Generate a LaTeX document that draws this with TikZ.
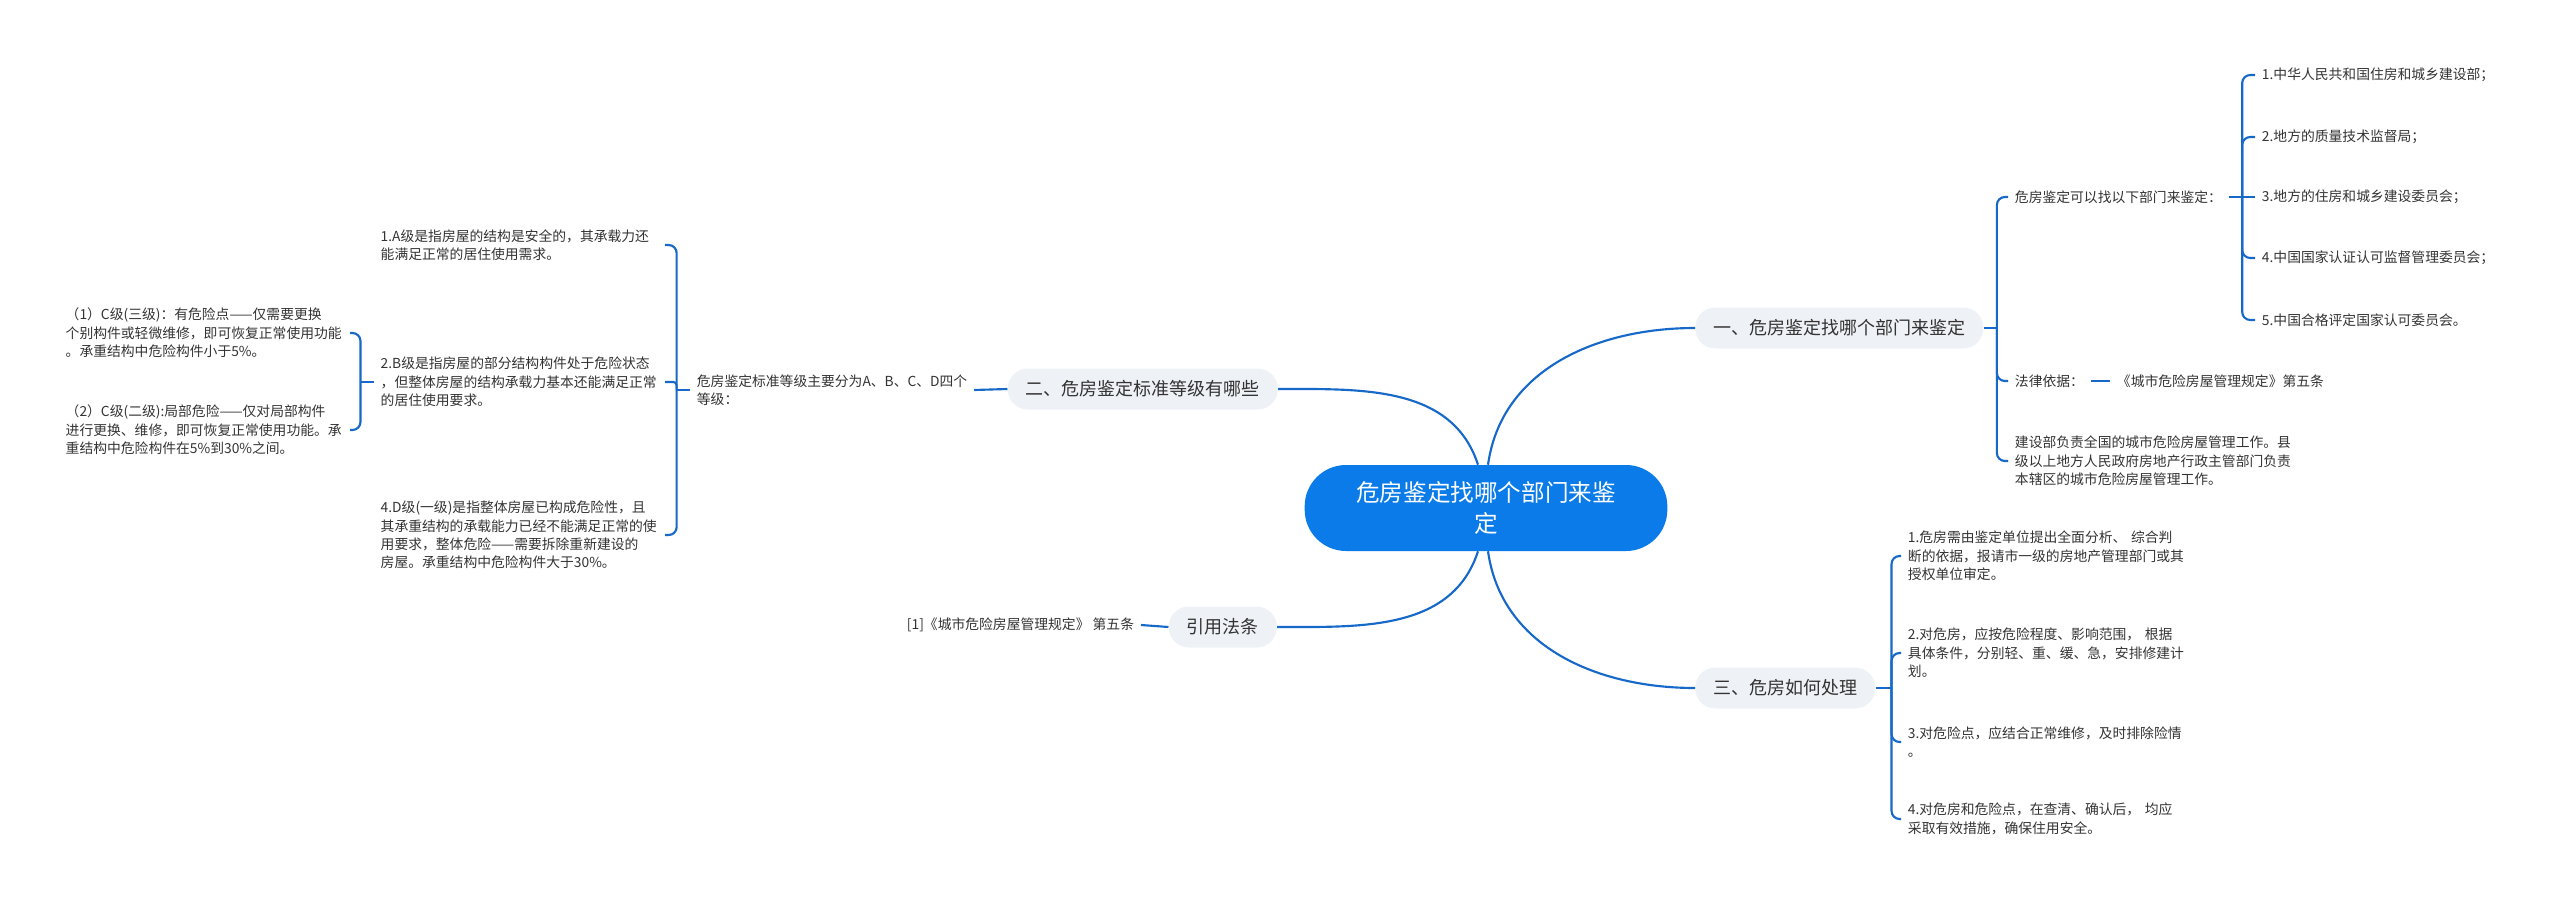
\documentclass[tikz,border=0pt]{standalone}
\usepackage{fontspec}
\setmainfont{Noto Sans CJK SC}
\usepackage{tikz}

\definecolor{rootblue}{RGB}{10,123,232}
\definecolor{linkblue}{RGB}{23,105,201}
\definecolor{topicgray}{RGB}{238,241,245}
\definecolor{inkgray}{RGB}{51,51,51}

\begin{document}
\begin{tikzpicture}[x=0.75pt,y=0.75pt,
    root/.style={fill=rootblue,text=white,rounded corners=31pt,minimum width=272pt,minimum height=64.5pt,
      inner sep=0pt,align=center,font=\fontsize{17.7pt}{23.5pt}\selectfont},
    topic/.style={fill=topicgray,text=inkgray,rounded corners=15pt,minimum height=30.75pt,
      inner xsep=13.5pt,inner ysep=0pt,font=\fontsize{13.5pt}{16pt}\selectfont},
    leaf/.style={text=inkgray,inner xsep=5pt,inner ysep=2pt,align=left,font=\fontsize{10.35pt}{13.75pt}\selectfont},
    note/.style={leaf,text width=208pt},
    link/.style={draw=linkblue,line width=1.6pt}]

\useasboundingbox (0,0) rectangle (2560,-903);

% centre and main topics
\node[root] (root) at (1486,-508) {危房鉴定找哪个部门来鉴\\定};

\node[topic,anchor=west] (one) at (1695,-328) {一、危房鉴定找哪个部门来鉴定};
\node[topic,anchor=east] (two) at (1278,-389) {二、危房鉴定标准等级有哪些};
\node[topic,anchor=west] (three) at (1695,-688) {三、危房如何处理};
\node[topic,anchor=east] (cite) at (1277,-627) {引用法条};

\draw[link] ([xshift=1.5pt]root.north) to[out=82,in=180] (one.west);
\draw[link] ([xshift=-6pt]root.north) to[out=108,in=0] (two.east);
\draw[link] ([xshift=1.5pt]root.south) to[out=-82,in=180] (three.west);
\draw[link] ([xshift=-6pt]root.south) to[out=-108,in=0] (cite.east);

% topic one
\node[leaf,anchor=west] (dept) at (2008,-197) {危房鉴定可以找以下部门来鉴定：};
\node[leaf,anchor=west] (dept1) at (2255,-75) {1.中华人民共和国住房和城乡建设部；};
\node[leaf,anchor=west] (dept2) at (2255,-137) {2.地方的质量技术监督局；};
\node[leaf,anchor=west] (dept3) at (2255,-197) {3.地方的住房和城乡建设委员会；};
\node[leaf,anchor=west] (dept4) at (2255,-258) {4.中国国家认证认可监督管理委员会；};
\node[leaf,anchor=west] (dept5) at (2255,-320) {5.中国合格评定国家认可委员会。};
\node[leaf,anchor=west] (basis) at (2008,-381) {法律依据：};
\node[leaf,anchor=west] (basislaw) at (2110,-381) {《城市危险房屋管理规定》第五条};
\node[note,anchor=west] (duty) at (2008,-461) {建设部负责全国的城市危险房屋管理工作。县\\级以上地方人民政府房地产行政主管部门负责\\本辖区的城市危险房屋管理工作。};

\draw[link] (one.east) -- ++(10pt,0) coordinate (j1);
\draw[link,rounded corners=6pt] (j1) |- (dept.west);
\draw[link,rounded corners=6pt] (j1) |- (basis.west);
\draw[link,rounded corners=6pt] (j1) |- (duty.west);

\draw[link] (dept.east) -- ++(10pt,0) coordinate (j1a);
\draw[link,rounded corners=6pt] (j1a) |- (dept1.west);
\draw[link,rounded corners=6pt] (j1a) |- (dept2.west);
\draw[link] (j1a) -- (dept3.west);
\draw[link,rounded corners=6pt] (j1a) |- (dept4.west);
\draw[link,rounded corners=6pt] (j1a) |- (dept5.west);

\draw[link] (basis.east) -- (basislaw.west);

% topic three
\node[note,anchor=west] (deal1) at (1901,-556) {1.危房需由鉴定单位提出全面分析、 综合判\\断的依据，报请市一级的房地产管理部门或其\\授权单位审定。};
\node[note,anchor=west] (deal2) at (1901,-653) {2.对危房，应按危险程度、影响范围， 根据\\具体条件，分别轻、重、缓、急，安排修建计\\划。};
\node[note,anchor=west] (deal3) at (1901,-742) {3.对危险点，应结合正常维修，及时排除险情\\。};
\node[note,anchor=west] (deal4) at (1901,-819) {4.对危房和危险点，在查清、确认后， 均应\\采取有效措施，确保住用安全。};

\draw[link] (three.east) -- ++(12pt,0) coordinate (j3);
\draw[link,rounded corners=6pt] (j3) |- (deal1.west);
\draw[link,rounded corners=6pt] (j3) |- (deal2.west);
\draw[link,rounded corners=6pt] (j3) |- (deal3.west);
\draw[link,rounded corners=6pt] (j3) |- (deal4.west);

% topic two
\node[leaf,anchor=west] (grade) at (690,-390) {危房鉴定标准等级主要分为A、B、C、D四个\\等级：};
\node[note,anchor=east] (gradeA) at (665,-245) {1.A级是指房屋的结构是安全的，其承载力还\\能满足正常的居住使用需求。};
\node[note,anchor=east] (gradeB) at (665,-382) {2.B级是指房屋的部分结构构件处于危险状态\\，但整体房屋的结构承载力基本还能满足正常\\的居住使用要求。};
\node[note,anchor=east] (gradeD) at (665,-535) {4.D级(一级)是指整体房屋已构成危险性，且\\其承重结构的承载能力已经不能满足正常的使\\用要求，整体危险——需要拆除重新建设的\\房屋。承重结构中危险构件大于30\%。};
\node[note,anchor=east] (gradeC3) at (350,-333) {（1）C级(三级)：有危险点——仅需要更换\\个别构件或轻微维修，即可恢复正常使用功能\\。承重结构中危险构件小于5\%。};
\node[note,anchor=east] (gradeC2) at (350,-430) {（2）C级(二级):局部危险——仅对局部构件\\进行更换、维修，即可恢复正常使用功能。承\\重结构中危险构件在5\%到30\%之间。};

\draw[link] (two.west) -- (grade.east);
\draw[link] (grade.west) -- ++(-10pt,0) coordinate (j2);
\draw[link,rounded corners=6pt] (j2) |- (gradeA.east);
\draw[link,rounded corners=2.5pt] (j2) |- (gradeB.east);
\draw[link,rounded corners=6pt] (j2) |- (gradeD.east);

\draw[link] (gradeB.west) -- ++(-10pt,0) coordinate (j2b);
\draw[link,rounded corners=6pt] (j2b) |- (gradeC3.east);
\draw[link,rounded corners=6pt] (j2b) |- (gradeC2.east);

% citation
\node[leaf,anchor=east] (citelaw) at (1141,-625) {[1]《城市危险房屋管理规定》 第五条};
\draw[link] (cite.west) -- (citelaw.east);
\end{tikzpicture}
\end{document}
